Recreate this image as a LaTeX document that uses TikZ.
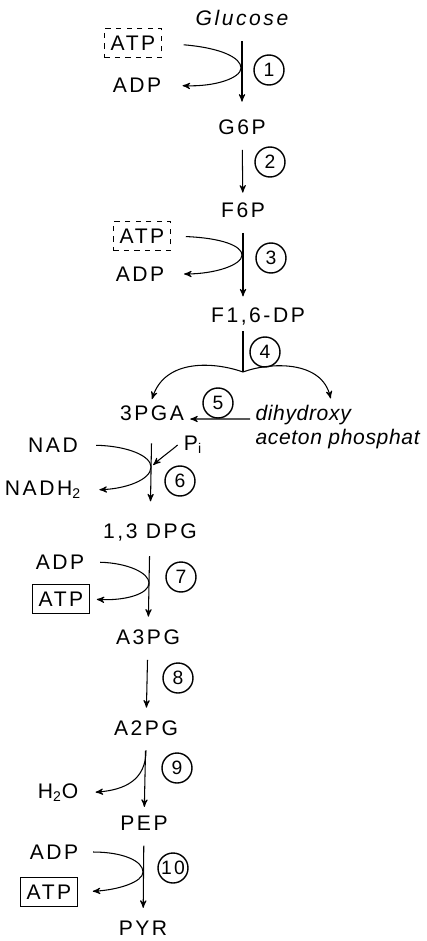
\documentclass[tikz,border=0pt]{standalone}
\usepackage{fontspec}
\setmainfont{Liberation Sans}[LetterSpace=12]
\usetikzlibrary{arrows}

\begin{document}
\begin{tikzpicture}[x=0.2mm,y=-0.2mm,semithick,>=stealth',
  font=\fontsize{12}{15}\selectfont,
  enzyme/.style={circle,draw,thick,minimum size=6mm,inner sep=0pt,font=\fontsize{11}{12}\selectfont},
  spent/.style={draw,dashed,inner xsep=1.3mm,inner ysep=1.4mm},
  gained/.style={draw,inner xsep=1.3mm,inner ysep=1.4mm},
  conv/.style={->,shorten <=1.8mm,shorten >=1.3mm}]
  \useasboundingbox (0,0) rectangle (426,941);

  \node (glc) at (242,18) {\itshape Glucose};
  \node (g6p) at (242,127) {G6P};
  \node (f6p) at (243,210) {F6P};
  \node (fdp) at (258,316) {F1,6-DP};
  \node (pga) at (152,413) {3PGA};
  \node[align=left,anchor=west,inner xsep=1mm,
    font=\fontsize{12}{14}\selectfont\addfontfeature{LetterSpace=3}] (dhap) at (250,427)
    {\itshape dihydroxy\\\itshape aceton phosphat};
  \node (dpg) at (150,532) {1,3 DPG};
  \node (a3pg) at (148,637) {A3PG};
  \node (a2pg) at (146,728) {A2PG};
  \node (pep) at (144,823) {PEP};
  \node (pyr) at (143,928) {PYR};

  \node[spent] (atp1) at (133,43) {ATP};
  \node (adp1) at (137,85) {ADP};
  \node[spent] (atp3) at (142,236) {ATP};
  \node (adp3) at (140,274) {ADP};
  \node (nad) at (53,445) {NAD};
  \node (pi) at (193,445) {P\textsubscript{i}};
  \node (nadh) at (43,490) {NADH\textsubscript{2}};
  \node (adp7) at (60,562) {ADP};
  \node[gained] (atp7) at (61,599) {ATP};
  \node (h2o) at (58,793) {H\textsubscript{2}O};
  \node (adp10) at (54,852) {ADP};
  \node[gained] (atp10) at (49,892) {ATP};

  \node[enzyme] (e1) at (269,70) {1};
  \node[enzyme] (e2) at (270,162) {2};
  \node[enzyme] (e3) at (271,258) {3};
  \node[enzyme] (e4) at (265,352) {4};
  \node[enzyme] (e5) at (218,403) {5};
  \node[enzyme] (e6) at (180,481) {6};
  \node[enzyme] (e7) at (181,577) {7};
  \node[enzyme] (e8) at (178,678) {8};
  \node[enzyme] (e9) at (177,768) {9};
  \node[enzyme] (e10) at (173,868) {10};

  \coordinate (t1) at (241,68);
  \coordinate (t3) at (242,255);
  \coordinate (br) at (243,372);
  \coordinate (t6) at (151,467);
  \coordinate (t7) at (149,583);
  \coordinate (t10) at (143,872);

  \draw[conv,shorten >=2.3mm] (glc) -- (g6p);
  \draw[conv,shorten >=0.7mm] (g6p) -- (f6p);
  \draw[conv,shorten >=0.9mm] (f6p) -- (fdp.north -| f6p);
  \draw (fdp.south -| f6p) -- (br);
  \draw[->] (br) .. controls (215,362) and (165,358) .. (pga.north);
  \draw[->] (br) .. controls (270,362) and (322,360) .. ([xshift=-1.4mm]dhap.north);
  \draw[->] (dhap.west |- pga.east) ++(0,6) -- ([yshift=-1.2mm]pga.east);
  \draw[conv,shorten <=3.3mm,shorten >=3.1mm] (pga) -- (dpg);
  \draw[conv] (dpg) -- (a3pg);
  \draw[conv] (a3pg) -- (a2pg);
  \draw[conv,shorten >=0.5mm] (a2pg) -- (pep);
  \draw[conv] (pep) -- (pyr);

  \draw[->,shorten <=4.3mm,shorten >=3mm] (atp1.east) .. controls (222,48) and (241,58) .. (t1) .. controls (241,78) and (215,87) .. (adp1.east);
  \draw[->,shorten <=2.9mm,shorten >=2.7mm] (atp3.east) .. controls (222,238) and (242,246) .. (t3) .. controls (242,265) and (215,274) .. (adp3.east);
  \draw[->,shorten <=2.4mm,shorten >=2.4mm] (nad.east) .. controls (128,446) and (151,456) .. (t6) .. controls (151,480) and (125,489) .. (nadh.east);
  \draw[->,shorten >=0.6mm] (pi.west) .. controls (172,450) and (162,457) .. (t6);
  \draw[->,shorten <=1.9mm,shorten >=1.3mm] (adp7.east) .. controls (128,563) and (149,573) .. (t7) .. controls (149,594) and (125,601) .. (atp7.east);
  \draw[->,shorten <=1.7mm,shorten >=2.2mm] (a2pg.south) .. controls (146,780) and (125,790) .. (h2o.east);
  \draw[->,shorten <=1.7mm,shorten >=2.9mm] (adp10.east) .. controls (123,852) and (143,861) .. (t10) .. controls (143,882) and (118,890) .. (atp10.east);
\end{tikzpicture}
\end{document}
